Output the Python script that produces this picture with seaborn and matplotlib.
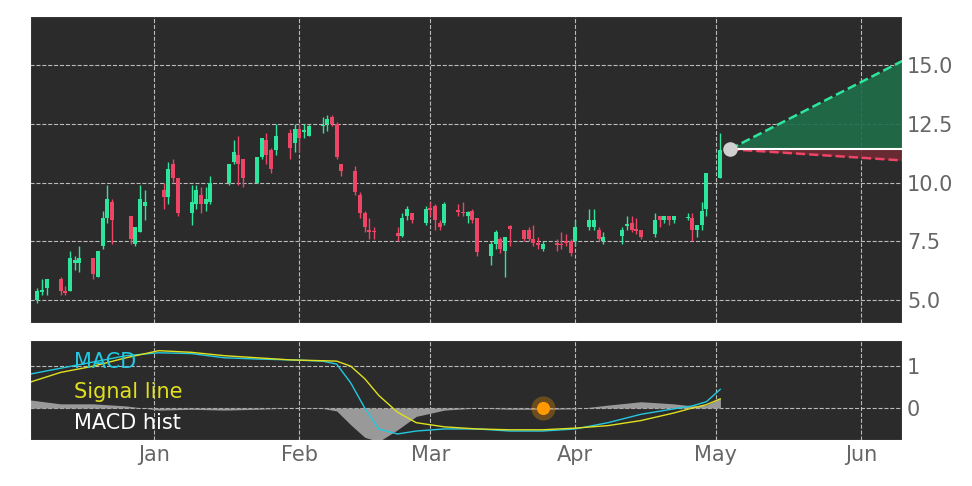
import pandas as pd
import numpy as np
import matplotlib
matplotlib.use('Agg')
import matplotlib.pyplot as plt
import matplotlib.dates as mdates
import seaborn as sns

# 캔들 데이터 (2021-01-01 기준 일 수)
day = [-27, -25, -24, -23, -20, -19, -18, -17, -16, -13, -12, -11, -10, -9, -5, -4, -3, -2,
       2, 3, 4, 5, 8, 9, 10, 11, 12, 16, 17, 18, 19, 22, 23, 24, 25, 26, 29, 30, 31, 32, 33,
       36, 37, 38, 39, 40, 43, 44, 45, 46, 47, 52, 53, 54, 55, 58, 59, 60, 61, 62,
       65, 66, 67, 68, 69, 72, 73, 74, 75, 76, 79, 80, 81, 82, 83, 86, 87, 88, 89, 90,
       93, 94, 95, 96, 100, 101, 102, 103, 104, 107, 108, 109, 110, 111, 114, 115, 116, 117, 118, 121]
opn = [4.9, 5.0, 5.35, 5.5, 5.9, 5.4, 5.4, 6.6, 6.6, 6.8, 6.0, 7.3, 8.5, 9.2, 8.6, 7.4, 7.9, 9.0,
       9.7, 9.4, 10.8, 10.2, 8.7, 9.1, 9.5, 9.1, 9.2, 10.0, 10.9, 11.2, 11.0, 10.0, 11.1, 11.8, 11.4, 11.4,
       12.1, 11.7, 12.3, 12.15, 12.0, 12.4, 12.5, 12.8, 12.5, 10.8, 10.5, 9.5, 8.7, 8.0, 7.95,
       7.85, 7.75, 8.6, 8.7, 8.3, 8.9, 9.0, 8.3, 8.3, 8.85, 8.75, 8.6, 8.8, 8.5, 6.9, 7.4, 7.6, 7.1, 8.15,
       8.0, 8.0, 7.6, 7.45, 7.2, 7.45, 7.4, 7.5, 7.5, 7.5, 8.1, 8.1, 8.0, 7.5, 7.75, 8.15, 8.3, 8.05, 8.0,
       7.8, 8.6, 8.4, 8.6, 8.4, 8.5, 8.5, 8.0, 8.2, 8.9, 10.2]
high = [5.3, 5.5, 5.9, 5.9, 6.0, 5.6, 7.1, 6.9, 7.3, 6.8, 7.1, 8.8, 9.9, 9.3, 8.6, 8.1, 9.9, 9.7,
        10.0, 10.9, 11.0, 10.2, 9.9, 9.9, 9.8, 9.8, 10.3, 10.8, 11.8, 12.0, 11.0, 11.1, 11.9, 12.1, 11.5, 12.5,
        12.3, 12.5, 12.5, 12.5, 12.5, 12.8, 12.9, 12.9, 12.6, 10.8, 10.7, 9.6, 8.8, 8.5, 8.1,
        8.1, 8.7, 9.0, 8.7, 9.0, 9.2, 9.1, 8.4, 9.2, 9.1, 9.2, 8.8, 8.9, 8.5, 7.5, 8.0, 7.7, 7.7, 8.2,
        8.0, 8.1, 8.2, 7.7, 7.5, 7.6, 7.9, 7.8, 7.6, 8.4, 8.9, 8.9, 8.1, 7.9, 8.1, 8.6, 8.6, 8.5, 8.0,
        8.7, 8.6, 8.6, 8.6, 8.6, 8.7, 8.7, 8.2, 9.2, 10.4, 12.1]
low = [4.3, 4.9, 5.2, 5.2, 5.2, 5.2, 5.4, 6.3, 6.2, 5.9, 6.0, 7.2, 8.3, 7.4, 7.4, 7.3, 7.9, 8.4,
       8.9, 9.1, 10.0, 8.6, 8.2, 8.9, 8.7, 8.8, 9.1, 9.9, 10.8, 9.9, 9.8, 10.0, 11.0, 10.8, 10.4, 11.2,
       11.0, 11.3, 11.3, 11.9, 12.0, 12.1, 12.2, 12.4, 11.0, 10.3, 9.5, 8.5, 7.9, 7.6, 7.6,
       7.5, 7.7, 8.4, 8.3, 8.2, 8.6, 8.0, 8.0, 8.2, 8.6, 8.6, 8.3, 8.3, 6.9, 6.5, 7.2, 7.0, 6.0, 7.3,
       7.5, 7.5, 7.3, 7.2, 7.1, 7.1, 7.2, 7.3, 6.9, 7.3, 8.0, 8.0, 7.5, 7.4, 7.4, 8.0, 7.9, 7.8, 7.6,
       7.7, 8.1, 8.3, 8.2, 8.3, 8.4, 7.5, 7.7, 8.0, 8.6, 10.2]
cls = [5.1, 5.4, 5.45, 5.9, 5.4, 5.3, 6.8, 6.7, 6.8, 6.1, 7.1, 8.5, 9.3, 8.4, 7.6, 8.1, 9.3, 9.2,
       9.4, 10.6, 10.2, 8.7, 9.2, 9.7, 9.1, 9.3, 10.0, 10.8, 11.3, 10.8, 10.2, 11.1, 11.9, 11.2, 10.6, 12.0,
       11.5, 12.3, 11.9, 12.25, 12.4, 12.45, 12.7, 12.5, 11.1, 10.5, 9.6, 8.7, 8.1, 7.9, 7.9,
       7.75, 8.5, 8.9, 8.4, 8.9, 8.85, 8.4, 8.1, 9.1, 8.75, 8.7, 8.75, 8.4, 7.05, 7.4, 7.9, 7.2, 7.7, 8.05,
       7.6, 7.6, 7.45, 7.35, 7.4, 7.35, 7.35, 7.45, 7.0, 8.1, 8.4, 8.4, 7.6, 7.7, 8.0, 8.25, 8.0, 7.95, 7.7,
       8.4, 8.4, 8.6, 8.4, 8.6, 8.55, 8.0, 8.2, 8.8, 10.4, 11.4]

# 예측 구간
fc_day = [123, 160]
fc_up = [11.43, 15.2]
fc_mid = [11.43, 11.43]
fc_low = [11.43, 10.95]

# MACD
macd_day = [-27, -20, -13, -6, 1, 8, 15, 22, 29, 36, 39, 42, 45, 48, 52, 56, 62, 69, 76, 83, 90,
            97, 104, 111, 115, 118, 121]
macd = [0.8, 0.95, 1.1, 1.25, 1.32, 1.3, 1.2, 1.17, 1.15, 1.12, 1.05, 0.6, 0.0, -0.5, -0.62, -0.55,
        -0.5, -0.5, -0.55, -0.55, -0.5, -0.35, -0.15, -0.02, 0.05, 0.15, 0.45]
signal = [0.6, 0.85, 1.0, 1.2, 1.37, 1.33, 1.25, 1.2, 1.15, 1.13, 1.12, 1.0, 0.7, 0.3, -0.1, -0.35,
          -0.45, -0.5, -0.52, -0.52, -0.48, -0.42, -0.3, -0.12, 0.0, 0.08, 0.22]
dot_day = 83

base = pd.Timestamp('2021-01-01')
to_date = lambda d: base + pd.to_timedelta(np.array(d), unit='D')

df = pd.DataFrame({'date': to_date(day), 'open': opn, 'high': high, 'low': low, 'close': cls})
mdf = pd.DataFrame({'date': to_date(macd_day), 'macd': macd, 'signal': signal})
mdf['hist'] = mdf['macd'] - mdf['signal']

bg = '#2b2b2b'
green = '#2ee59d'
red = '#ee4466'
sns.set_style('darkgrid', {'axes.facecolor': bg, 'grid.color': '#bbbbbb', 'grid.linestyle': '--'})

fig = plt.figure(figsize=(9.72, 4.86), dpi=100)
ax = fig.add_axes([0.031, 0.335, 0.897, 0.632])
ax2 = fig.add_axes([0.031, 0.095, 0.897, 0.205], sharex=ax)

# 캔들
up = df['close'] >= df['open']
colors = np.where(up, green, red)
ax.vlines(df['date'], df['low'], df['high'], colors=colors, linewidth=1)
ax.bar(df['date'], (df['close'] - df['open']).abs().clip(lower=0.06),
       bottom=df[['open', 'close']].min(axis=1), width=0.85, color=colors, linewidth=0)

# 예측
fd = to_date(fc_day)
ax.fill_between(fd, fc_mid, fc_up, color='#1f6e4a', alpha=0.9, linewidth=0)
ax.fill_between(fd, fc_low, fc_mid, color='#6e2a35', alpha=0.9, linewidth=0)
ax.plot(fd, fc_up, '--', color=green, lw=1.8)
ax.plot(fd, fc_low, '--', color=red, lw=1.8)
ax.plot(fd, fc_mid, '-', color='white', lw=1.5)
ax.scatter(fd[:1], fc_mid[:1], s=90, color='#d0d0d0', zorder=5)

ax.set_ylim(4.02, 17.1)
ax.set_yticks([5.0, 7.5, 10.0, 12.5, 15.0])
ax.yaxis.tick_right()
ax.set_xlim(base + pd.Timedelta(days=-26.5), base + pd.Timedelta(days=159.8))
ax.tick_params(axis='x', labelbottom=False, length=0)
ax.tick_params(axis='y', labelsize=15, labelcolor='#666666', length=0)

# MACD 패널
ax2.fill_between(mdf['date'], 0, mdf['hist'], color='#999999', linewidth=0)
sns.lineplot(data=mdf, x='date', y='macd', ax=ax2, color='#22c8e0', lw=1)
sns.lineplot(data=mdf, x='date', y='signal', ax=ax2, color='#e0e020', lw=1)
ax2.scatter(to_date([dot_day]), [0], s=300, color='#ff9900', alpha=0.3, zorder=5, linewidth=0)
ax2.scatter(to_date([dot_day]), [0], s=90, color='#ff9900', zorder=6, linewidth=0)
ax2.set_ylim(-0.76, 1.62)
ax2.set_yticks([0, 1])
ax2.yaxis.tick_right()
ax2.set_xlabel('')
ax2.set_ylabel('')
ax2.xaxis.set_major_locator(mdates.MonthLocator())
ax2.xaxis.set_major_formatter(mdates.DateFormatter('%b'))
ax2.tick_params(labelsize=15, labelcolor='#666666', length=0)
for txt, c, yy in [('MACD', '#22c8e0', 0.78), ('Signal line', '#e0e020', 0.48), ('MACD hist', 'white', 0.17)]:
    ax2.text(0.05, yy, txt, color=c, fontsize=15, transform=ax2.transAxes, va='center')

fig.savefig('out.png', dpi=100, facecolor='white')
